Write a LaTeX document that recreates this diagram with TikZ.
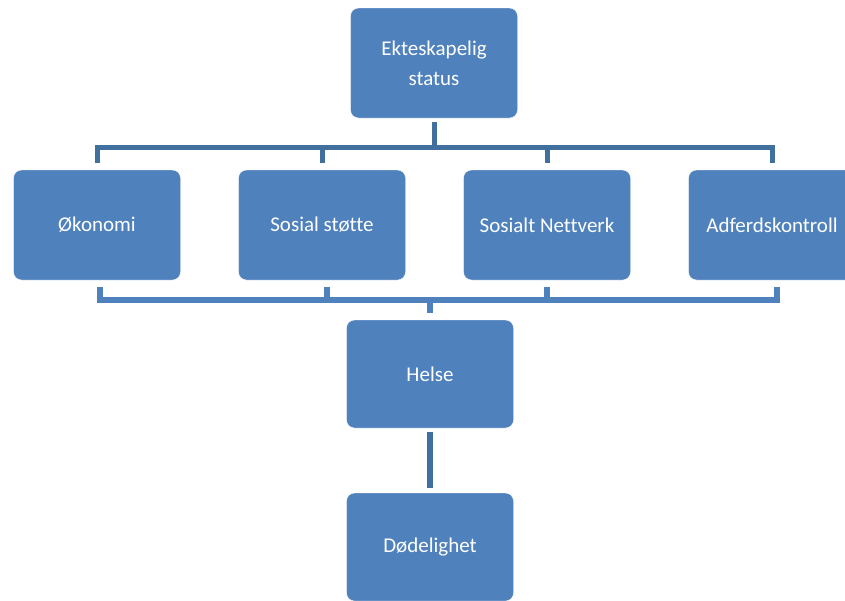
\documentclass[tikz,border=0pt]{standalone}
\usepackage{fontspec}
\setmainfont[Ligatures=CommonOff]{Carlito}
\usepackage{xcolor}
\usepackage{tikz}
\usetikzlibrary{shapes.geometric, arrows, positioning}
\definecolor{boxblue}{HTML}{4F81BD}
\definecolor{darkline}{HTML}{41709F}
\tikzstyle{block} = [rectangle, rounded corners=8pt, minimum width=167pt, minimum height=110pt, inner sep=0pt, align=center, draw=white, fill=boxblue, text=white, font=\fontsize{21}{30}\selectfont]
\tikzstyle{topline} = [draw, darkline, line width=5pt]
\tikzstyle{botline} = [draw, boxblue, line width=6pt]

\begin{document}
\begin{tikzpicture}[x=1pt, y=-1pt, node distance=225pt]
    \useasboundingbox (0,0) rectangle (845,600);
    % Nodes
    \node [block] (status) at (434,63) {Ekteskapelig\\status};
    \node [block] (okonomi) at (97,225) {Økonomi};
    \node [block, right of=okonomi] (stotte) {Sosial støtte};
    \node [block, right of=stotte] (nettverk) {Sosialt Nettverk};
    \node [block, right of=nettverk] (adferd) {Adferdskontroll};
    \node [block, minimum height=108pt] (helse) at (430,374) {Helse};
    \node [block, below of=helse, node distance=173pt, minimum height=108pt] (dod) {Dødelighet};
    \coordinate (bustop) at (434,147);
    \coordinate (busbot) at (430,300);

    % Edges
    \path [topline] ([yshift=-4pt]status.south) -- (bustop);
    \foreach \n in {okonomi, stotte, nettverk, adferd}
        \path [topline] (bustop) -| ([yshift=7pt]\n.north);
    \path [botline] ([xshift=3pt, yshift=-7pt]okonomi.south) |- (busbot);
    \path [botline] ([xshift=5pt, yshift=-7pt]stotte.south) |- (busbot);
    \path [botline] ([yshift=-7pt]nettverk.south) |- (busbot);
    \path [botline] ([xshift=5pt, yshift=-7pt]adferd.south) |- (busbot);
    \path [botline] (busbot) -- ([yshift=7pt]helse.north);
    \path [topline, line width=5.5pt] ([yshift=-4pt]helse.south) -- ([yshift=5pt]dod.north);
\end{tikzpicture}
\end{document}
